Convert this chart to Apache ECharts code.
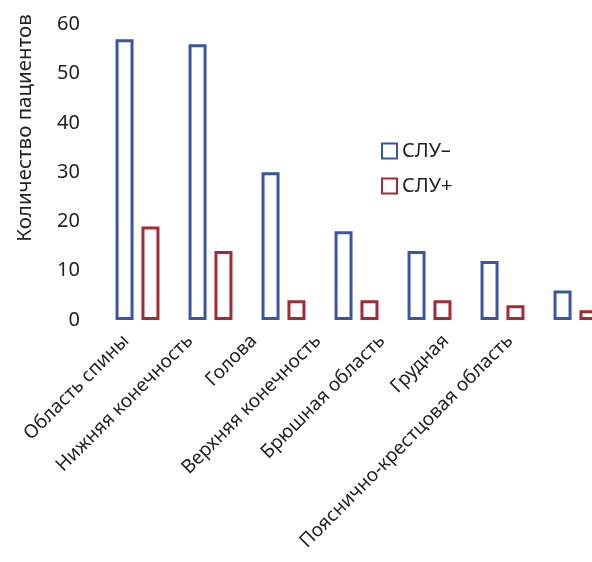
<!DOCTYPE html>
<html>
<head>
<meta charset="utf-8">
<script src="https://cdn.jsdelivr.net/npm/echarts@6/dist/echarts.min.js"></script>
<style>
  html, body { margin: 0; padding: 0; background: #fff; }
  #chart { width: 592px; height: 562px; }
</style>
</head>
<body>
<div id="chart"></div>
<script>
var categories = ['Область спины', 'Нижняя конечность', 'Голова', 'Верхняя конечность',
    'Брюшная область', 'Грудная', 'Пояснично-крестцовая область']
var sluMinus = [57, 56, 30, 18, 14, 12, 6]
var sluPlus = [19, 14, 4, 4, 4, 3, 2]
var yTicks = { min: 0, max: 60, step: 10 }

var font = 'Noto Sans'
var textColor = '#222'
var blue = '#3B55A5'
var red = '#A42A35'

var mychart = echarts.init(document.getElementById('chart'))
mychart.setOption({
    animation: false,
    textStyle: { fontFamily: font },
    grid: [
        { left: 101, width: 511, top: 24.5, bottom: 242, outerBoundsMode: 'none' },
        // labels only, they sit closer together than the bars
        { left: 94, width: 448, top: 24.5, bottom: 242, outerBoundsMode: 'none' }
    ],
    legend: {
        orient: 'vertical',
        left: 376,
        top: 136,
        icon: 'rect',
        itemWidth: 15,
        itemHeight: 15,
        itemGap: 15,
        textStyle: { fontFamily: font, fontSize: 20, color: textColor },
        data: ['СЛУ–', 'СЛУ+']
    },
    graphic: [{
        type: 'text',
        x: 25,
        y: 128,
        rotation: Math.PI / 2,
        style: {
            text: 'Количество пациентов',
            font: '20.5px "Noto Sans"',
            fill: textColor,
            textAlign: 'center',
            textVerticalAlign: 'middle'
        }
    }],
    xAxis: [{
        type: 'category',
        gridIndex: 0,
        data: categories,
        axisLine: { show: false },
        axisTick: { show: false },
        axisLabel: { show: false }
    }, {
        type: 'category',
        gridIndex: 1,
        data: categories,
        axisLine: { show: false },
        axisTick: { show: false },
        axisLabel: {
            rotate: 45,
            margin: 18,
            interval: 0,
            fontSize: 19,
            color: textColor
        }
    }],
    yAxis: [{
        type: 'value',
        gridIndex: 0,
        min: yTicks.min,
        max: yTicks.max,
        interval: yTicks.step,
        splitLine: { show: false },
        axisLine: { show: false },
        axisTick: { show: false },
        axisLabel: { fontSize: 20, color: textColor, margin: 21 }
    }, {
        type: 'value',
        gridIndex: 1,
        show: false
    }],
    series: [{
        name: 'СЛУ–',
        type: 'bar',
        barWidth: 18,
        barGap: '44%',
        itemStyle: { color: '#fff', borderColor: blue, borderWidth: 3 },
        data: sluMinus
    }, {
        name: 'СЛУ+',
        type: 'bar',
        barWidth: 18,
        itemStyle: { color: '#fff', borderColor: red, borderWidth: 3 },
        data: sluPlus
    }]
})
</script>
</body>
</html>
